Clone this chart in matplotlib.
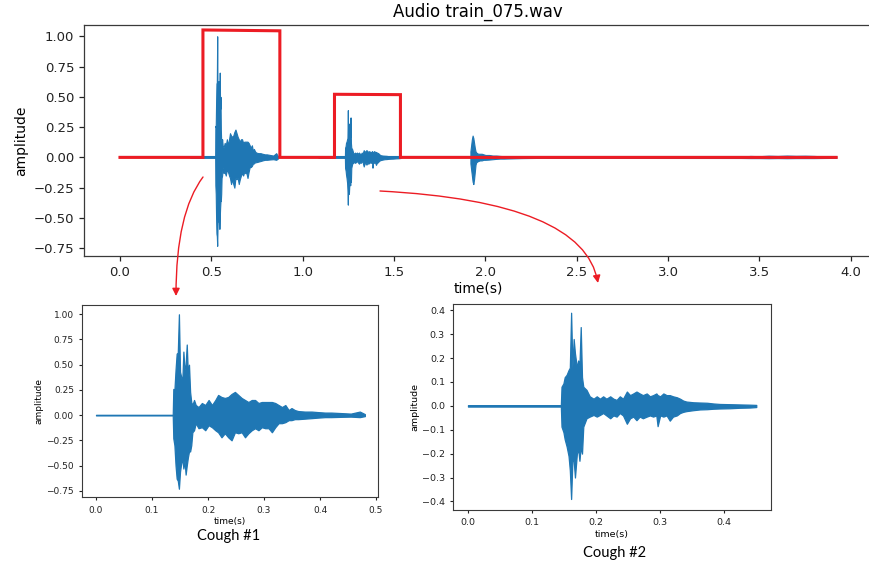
import numpy as np
import matplotlib
matplotlib.use("Agg")
import matplotlib.pyplot as plt
from matplotlib.patches import FancyArrowPatch

# ---------------- data ----------------
BLUE = "#1f77b4"
RED = "#ec1c24"

# Cough #1 clip (time within clip, upper / lower envelope)
c1_t = [0.000, 0.137, 0.138, 0.140, 0.142, 0.144, 0.146, 0.148, 0.150, 0.152,
        0.154, 0.156, 0.158, 0.160, 0.162, 0.164, 0.166, 0.168, 0.170, 0.172,
        0.175, 0.178, 0.183, 0.189, 0.195, 0.201, 0.207, 0.213, 0.218, 0.224,
        0.230, 0.236, 0.242, 0.248, 0.254, 0.260, 0.266, 0.272, 0.278, 0.284,
        0.290, 0.296, 0.302, 0.308, 0.314, 0.320, 0.326, 0.332, 0.338, 0.344,
        0.349, 0.355, 0.361, 0.373, 0.385, 0.396, 0.409, 0.420, 0.438, 0.455,
        0.471, 0.480]
c1_hi = [0.003, 0.003, 0.26, 0.25, 0.45, 0.61, 0.62, 1.00, 0.43, 0.38,
         0.33, 0.63, 0.45, 0.50, 0.70, 0.40, 0.50, 0.23, 0.13, 0.10,
         0.15, 0.10, 0.08, 0.12, 0.10, 0.15, 0.10, 0.15, 0.20, 0.18,
         0.17, 0.18, 0.21, 0.23, 0.20, 0.17, 0.15, 0.13, 0.15, 0.15,
         0.12, 0.13, 0.13, 0.13, 0.13, 0.12, 0.10, 0.08, 0.10, 0.05,
         0.07, 0.05, 0.04, 0.035, 0.035, 0.03, 0.025, 0.025, 0.02, 0.015,
         0.035, 0.01]
c1_lo = [-0.003, -0.003, -0.23, -0.30, -0.50, -0.63, -0.65, -0.73, -0.56, -0.48,
         -0.43, -0.53, -0.45, -0.59, -0.50, -0.42, -0.36, -0.36, -0.30, -0.17,
         -0.15, -0.08, -0.13, -0.12, -0.15, -0.10, -0.12, -0.15, -0.17, -0.22,
         -0.18, -0.22, -0.25, -0.17, -0.18, -0.17, -0.22, -0.18, -0.15, -0.13,
         -0.15, -0.12, -0.13, -0.13, -0.17, -0.12, -0.08, -0.08, -0.07, -0.05,
         -0.05, -0.04, -0.04, -0.035, -0.03, -0.025, -0.02, -0.02, -0.017, -0.015,
         -0.02, -0.01]

# Cough #2 clip
c2_t = [0.000, 0.145, 0.146, 0.149, 0.151, 0.154, 0.157, 0.159, 0.161, 0.163,
        0.165, 0.167, 0.170, 0.172, 0.174, 0.176, 0.178, 0.180, 0.185, 0.190,
        0.196, 0.201, 0.206, 0.211, 0.216, 0.222, 0.227, 0.232, 0.237, 0.242,
        0.248, 0.253, 0.258, 0.263, 0.268, 0.273, 0.279, 0.284, 0.289, 0.294,
        0.296, 0.300, 0.305, 0.310, 0.315, 0.320, 0.326, 0.331, 0.336, 0.341,
        0.352, 0.362, 0.373, 0.383, 0.393, 0.409, 0.424, 0.440, 0.450]
c2_hi = [0.003, 0.003, 0.08, 0.094, 0.12, 0.13, 0.15, 0.16, 0.39, 0.16,
         0.28, 0.22, 0.16, 0.19, 0.17, 0.33, 0.12, 0.08, 0.067, 0.04,
         0.03, 0.04, 0.03, 0.04, 0.03, 0.04, 0.03, 0.025, 0.04, 0.03,
         0.06, 0.045, 0.052, 0.06, 0.052, 0.045, 0.052, 0.04, 0.045, 0.052,
         0.045, 0.04, 0.052, 0.045, 0.045, 0.04, 0.036, 0.03, 0.022, 0.018,
         0.015, 0.014, 0.013, 0.01, 0.008, 0.007, 0.006, 0.005, 0.004]
c2_lo = [-0.003, -0.003, -0.087, -0.11, -0.14, -0.17, -0.21, -0.27, -0.39, -0.23,
         -0.23, -0.30, -0.20, -0.18, -0.23, -0.17, -0.20, -0.087, -0.052, -0.045,
         -0.038, -0.045, -0.038, -0.03, -0.04, -0.052, -0.04, -0.045, -0.03, -0.04,
         -0.075, -0.052, -0.045, -0.06, -0.045, -0.052, -0.045, -0.04, -0.045, -0.04,
         -0.085, -0.04, -0.045, -0.04, -0.062, -0.045, -0.04, -0.03, -0.025, -0.022,
         -0.018, -0.015, -0.014, -0.012, -0.011, -0.01, -0.008, -0.007, -0.005]

# where each clip starts inside the full recording (s)
c1_start = 0.384
c2_start = 1.086

# third small burst in the full recording
b3_t = [1.918, 1.922, 1.926, 1.930, 1.934, 1.938, 1.942, 1.946, 1.950, 1.955,
        1.960, 1.970, 1.980, 1.990, 2.000, 2.020, 2.040, 2.060, 2.080, 2.100,
        2.150, 2.200, 2.250, 2.300]
b3_hi = [0.05, 0.10, 0.15, 0.18, 0.16, 0.12, 0.08, 0.05, 0.04, 0.035,
         0.03, 0.03, 0.03, 0.025, 0.02, 0.02, 0.015, 0.015, 0.012, 0.01,
         0.008, 0.006, 0.005, 0.004]
b3_lo = [-0.05, -0.10, -0.15, -0.20, -0.22, -0.18, -0.12, -0.06, -0.04, -0.035,
         -0.03, -0.025, -0.025, -0.02, -0.02, -0.018, -0.015, -0.012, -0.01, -0.01,
         -0.008, -0.006, -0.005, -0.004]

# faint background noise near the end of the recording
tail_t = [2.30, 3.40, 3.45, 3.50, 3.55, 3.60, 3.65, 3.70, 3.75, 3.80, 3.85, 3.92]
tail_hi = [0.004, 0.006, 0.012, 0.01, 0.014, 0.012, 0.015, 0.013, 0.014, 0.012, 0.008, 0.006]
tail_lo = [-0.004, -0.005, -0.006, -0.006, -0.007, -0.006, -0.007, -0.006, -0.006, -0.006, -0.005, -0.004]

duration = 3.92

# red annotation outline (time, amplitude)
red_t = [0.0, 0.454, 0.454, 0.875, 0.875, 1.174, 1.174, 1.535, 1.535, 3.92]
red_v = [0.0, 0.0, 1.052, 1.045, 0.0, 0.0, 0.521, 0.518, 0.0, 0.0]

main_xticks = [0.0, 0.5, 1.0, 1.5, 2.0, 2.5, 3.0, 3.5, 4.0]
main_yticks = [-0.75, -0.50, -0.25, 0.00, 0.25, 0.50, 0.75, 1.00]
c1_xticks = [0.0, 0.1, 0.2, 0.3, 0.4, 0.5]
c1_yticks = [-0.75, -0.50, -0.25, 0.00, 0.25, 0.50, 0.75, 1.00]
c2_xticks = [0.0, 0.1, 0.2, 0.3, 0.4]
c2_yticks = [-0.4, -0.3, -0.2, -0.1, 0.0, 0.1, 0.2, 0.3, 0.4]

title = "Audio train_075.wav"
xlabel = "time(s)"
ylabel = "amplitude"
cap1 = "Cough #1"
cap2 = "Cough #2"

# ---------------- drawing ----------------
W, H = 869, 565
fig = plt.figure(figsize=(W / 100, H / 100), dpi=100)


def box(l, t, r, b):
    return [l / W, 1 - b / H, (r - l) / W, (b - t) / H]


def wave(ax, t, hi, lo, off=0.0, lw=1.0):
    tt = np.asarray(t) + off
    ax.fill_between(tt, lo, hi, color=BLUE, edgecolor=BLUE, linewidth=lw)


def style(ax, fs, spine_c="#3a3a3a", lw=0.9):
    for s in ax.spines.values():
        s.set_color(spine_c)
        s.set_linewidth(lw)
    ax.tick_params(labelsize=fs, colors="#222222", width=lw, length=3.5)


# main axes
ax = fig.add_axes(box(84, 25, 872, 256))
ax.plot([0, duration], [0, 0], color=BLUE, lw=1.5)
wave(ax, c1_t, c1_hi, c1_lo, c1_start, lw=0.8)
wave(ax, c2_t, c2_hi, c2_lo, c2_start, lw=0.8)
wave(ax, b3_t, b3_hi, b3_lo, 0.0, lw=0.8)
wave(ax, tail_t, tail_hi, tail_lo, 0.0, lw=0.8)
ax.plot(red_t, red_v, color=RED, lw=2.2, solid_joinstyle="miter")
ax.set_xlim(-0.197, 4.116)
ax.set_ylim(-0.814, 1.093)
ax.set_xticks(main_xticks)
ax.set_xticklabels([f"{v:.1f}" for v in main_xticks])
ax.set_yticks(main_yticks)
ax.set_yticklabels([f"{v:.2f}".replace("-", "\u2212") for v in main_yticks])
style(ax, 9.5)
ax.set_title(title, fontsize=12, pad=6)
ax.set_ylabel(ylabel, fontsize=10, labelpad=4)
ax.set_xlabel(xlabel, fontsize=10, labelpad=2)

# inset cough #1
a1 = fig.add_axes(box(82.3, 305, 378.3, 497.3))
wave(a1, c1_t, c1_hi, c1_lo, 0.0, lw=0.9)
a1.set_xlim(-0.0245, 0.504)
a1.set_ylim(-0.815, 1.092)
a1.set_xticks(c1_xticks)
a1.set_xticklabels([f"{v:.1f}" for v in c1_xticks])
a1.set_yticks(c1_yticks)
a1.set_yticklabels([f"{v:.2f}".replace("-", "\u2212") for v in c1_yticks])
style(a1, 6.5, lw=0.8)
a1.tick_params(length=2.5)
a1.set_xlabel(xlabel, fontsize=6.5, labelpad=2)
a1.set_ylabel(ylabel, fontsize=6.5, labelpad=2)

# inset cough #2
a2 = fig.add_axes(box(453.3, 304, 771, 510))
wave(a2, c2_t, c2_hi, c2_lo, 0.0, lw=0.9)
a2.set_xlim(-0.0229, 0.473)
a2.set_ylim(-0.436, 0.4265)
a2.set_xticks(c2_xticks)
a2.set_xticklabels([f"{v:.1f}" for v in c2_xticks])
a2.set_yticks(c2_yticks)
a2.set_yticklabels([f"{v:.1f}".replace("-", "\u2212") for v in c2_yticks])
style(a2, 6.8, lw=0.8)
a2.tick_params(length=2.5)
a2.set_xlabel(xlabel, fontsize=6.8, labelpad=2)
a2.set_ylabel(ylabel, fontsize=6.8, labelpad=2)

fig.text(229 / W, 1 - 536 / H, cap1, ha="center", va="center", fontsize=10.5, family=["Lato", "DejaVu Sans"])
fig.text(615 / W, 1 - 553 / H, cap2, ha="center", va="center", fontsize=10.5, family=["Lato", "DejaVu Sans"])

# curved arrows
def arrow(p0, p1, conn):
    a = FancyArrowPatch((p0[0] / W, 1 - p0[1] / H), (p1[0] / W, 1 - p1[1] / H),
                        transform=fig.transFigure, connectionstyle=conn,
                        arrowstyle="-|>", mutation_scale=11, color=RED, lw=1.0,
                        shrinkA=0, shrinkB=0)
    fig.patches.append(a)

arrow((203, 177), (176, 296), "angle3,angleA=-127,angleB=90")
arrow((380, 191), (598, 283), "angle3,angleA=-3,angleB=100")

fig.savefig("out.png", dpi=100)
